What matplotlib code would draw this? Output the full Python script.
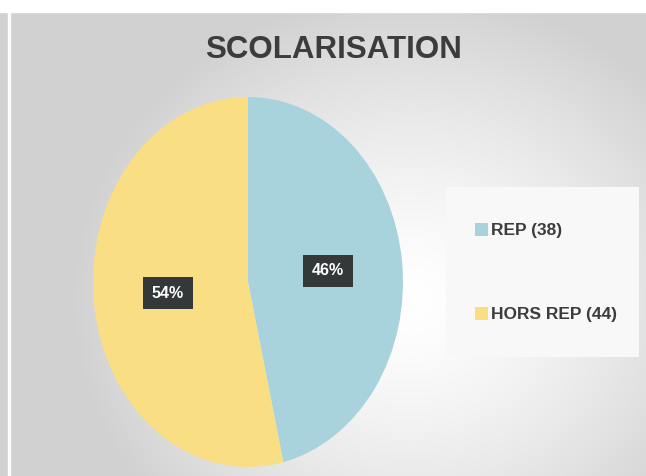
import numpy as np
import matplotlib.pyplot as plt
from matplotlib.patches import Rectangle

labels = ["REP (38)", "HORS REP (44)"]
values = [38, 44]
colors = ["#A8D3DC", "#F9DE84"]
title = "SCOLARISATION"

FONT = ["Liberation Sans", "DejaVu Sans"]
W, H = 646, 476
fig = plt.figure(figsize=(W / 100, H / 100), dpi=100)

# background: radial grey gradient, lighter near the centre right
bg = fig.add_axes([0, 0, 1, 1])
yy, xx = np.mgrid[0:H, 0:W]
d = np.sqrt(((xx - 410) / 340.0) ** 2 + ((yy - 300) / 310.0) ** 2)
lum = 1.0 - 0.18 * np.clip(d, 0, 1.0) ** 1.4
img = np.dstack([lum, lum, lum])
bg.imshow(img, extent=[0, W, H, 0], aspect="auto")
bg.set_xlim(0, W)
bg.set_ylim(H, 0)
bg.axis("off")
# white strips on top and left
bg.add_patch(Rectangle((0, 0), W, 12, color="white", zorder=3))
bg.add_patch(Rectangle((8, 12), 2, H, color="white", zorder=3))
# legend panel
bg.add_patch(Rectangle((446, 187), 193, 170, facecolor="#f8f8f8", edgecolor="none", zorder=2))

fig.text(334 / W, 1 - 50 / H, title, ha="center", va="center", fontsize=22.5,
         fontweight="bold", color="#3c3c3c", family=FONT)

# pie (drawn as ellipse)
cx, cy, rx, ry = 248, 282, 155, 185
ax = fig.add_axes([(cx - rx) / W, 1 - (cy + ry) / H, 2 * rx / W, 2 * ry / H])
wedges, texts, autotexts = ax.pie(values, colors=colors, startangle=90, counterclock=False,
                                  autopct="%1.0f%%", pctdistance=0.52,
                                  wedgeprops=dict(linewidth=0))
ax.set_xlim(-1, 1)
ax.set_ylim(-1, 1)
ax.set_aspect("auto")
for t in autotexts:
    t.set_color("white")
    t.set_fontweight("bold")
    t.set_fontsize(11.5)
    t.set_family(FONT)
    t.set_bbox(dict(boxstyle="square,pad=0.55", facecolor="#353839", edgecolor="none"))

# legend
leg_y = [229, 313]
for lab, col, y in zip(labels, colors, leg_y):
    bg.add_patch(Rectangle((475, y - 6), 13, 13, facecolor=col, edgecolor="none", zorder=4))
    bg.text(491, y + 1, lab, ha="left", va="center", fontsize=12.5, fontweight="bold",
            color="#3c3c3c", family=FONT, zorder=4)

fig.savefig("out.png", dpi=100)
